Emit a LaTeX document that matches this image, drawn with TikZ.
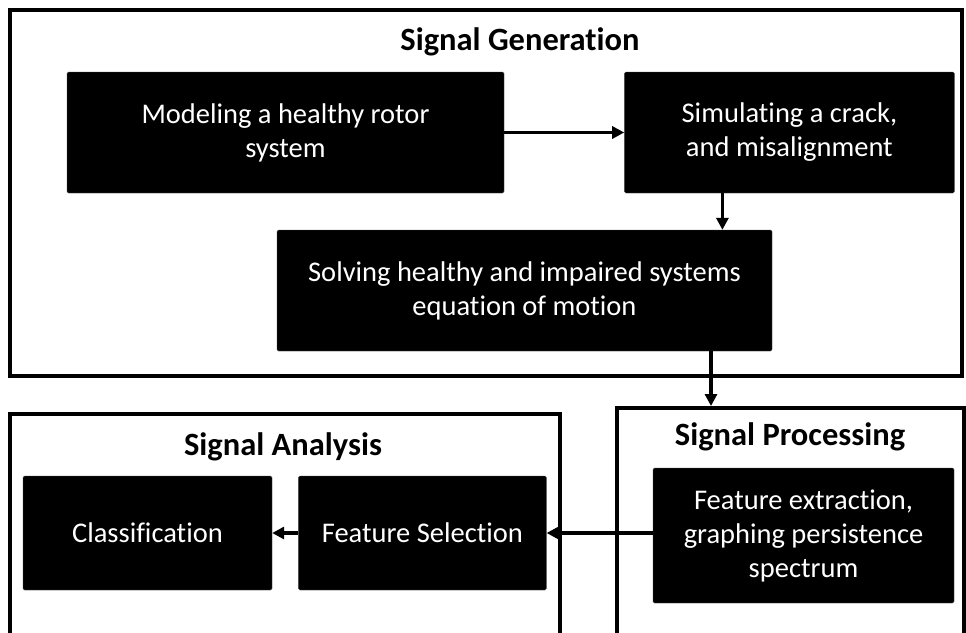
\documentclass[tikz,border=0pt]{standalone}
\usepackage{fontspec}
\setmainfont[Ligatures={NoCommon}]{Carlito}
\usepackage{tikz}
\usetikzlibrary{positioning, arrows.meta}

\begin{document}
\begin{tikzpicture}[
    x=1pt, y=-1pt,
    frame/.style={draw, line width=4pt, rectangle, inner sep=0pt},
    title/.style={font=\fontsize{32.5}{36}\selectfont\bfseries},
    block/.style={draw=black!70, fill=black, rectangle, rounded corners=1.5pt,
                  text=white, align=center, inner sep=0pt,
                  font=\fontsize{28.5}{34}\selectfont},
    arrow/.style={-{Triangle[length=12pt,width=12pt]}, line width=3.5pt}
]
\clip (0,0) rectangle (966,632);
\fill[white] (0,0) rectangle (966,632);

% signal generation
\node[frame, minimum width=952pt, minimum height=366pt] (genframe) at (486,193) {};
\node[title] (gentitle) at (520,42) {Signal Generation};
\node[block, minimum width=437pt, minimum height=121pt] (model) at (285.5,132.5)
    {Modeling a healthy rotor\\system};
\node[block, minimum width=330pt, minimum height=121pt, right=120pt of model] (sim)
    {Simulating a crack,\\and misalignment};
\node[block, minimum width=495pt, minimum height=121pt] (solve) at (524.5,290.5)
    {Solving healthy and impaired systems\\equation of motion};

% signal processing
\node[frame, minimum width=347pt, minimum height=252pt] (procframe) at (790.5,534) {};
\node[title] (proctitle) at (790,437) {Signal Processing};
\node[block, minimum width=301pt, minimum height=135pt] (extract) at (803.5,535.5)
    {Feature extraction,\\graphing persistence\\spectrum};

% signal analysis
\node[frame, minimum width=550pt, minimum height=246pt] (anaframe) at (285,537) {};
\node[title] (anatitle) at (283,447) {Signal Analysis};
\node[block, minimum width=249pt, minimum height=114pt] (classif) at (147.5,533) {Classification};
\node[block, minimum width=248pt, minimum height=114pt, right=26pt of classif] (select)
    {Feature Selection};

\draw[arrow] (model) -- (sim);
\draw[arrow] ([xshift=-67pt]sim.south) -- ([xshift=-67pt]sim.south |- solve.north);
\draw[arrow] ([xshift=186.5pt]solve.south) -- ([xshift=186.5pt]solve.south |- procframe.north);
\draw[arrow] (extract.west |- select.east) -- (select.east);
\draw[arrow] (select) -- (classif);
\end{tikzpicture}
\end{document}
